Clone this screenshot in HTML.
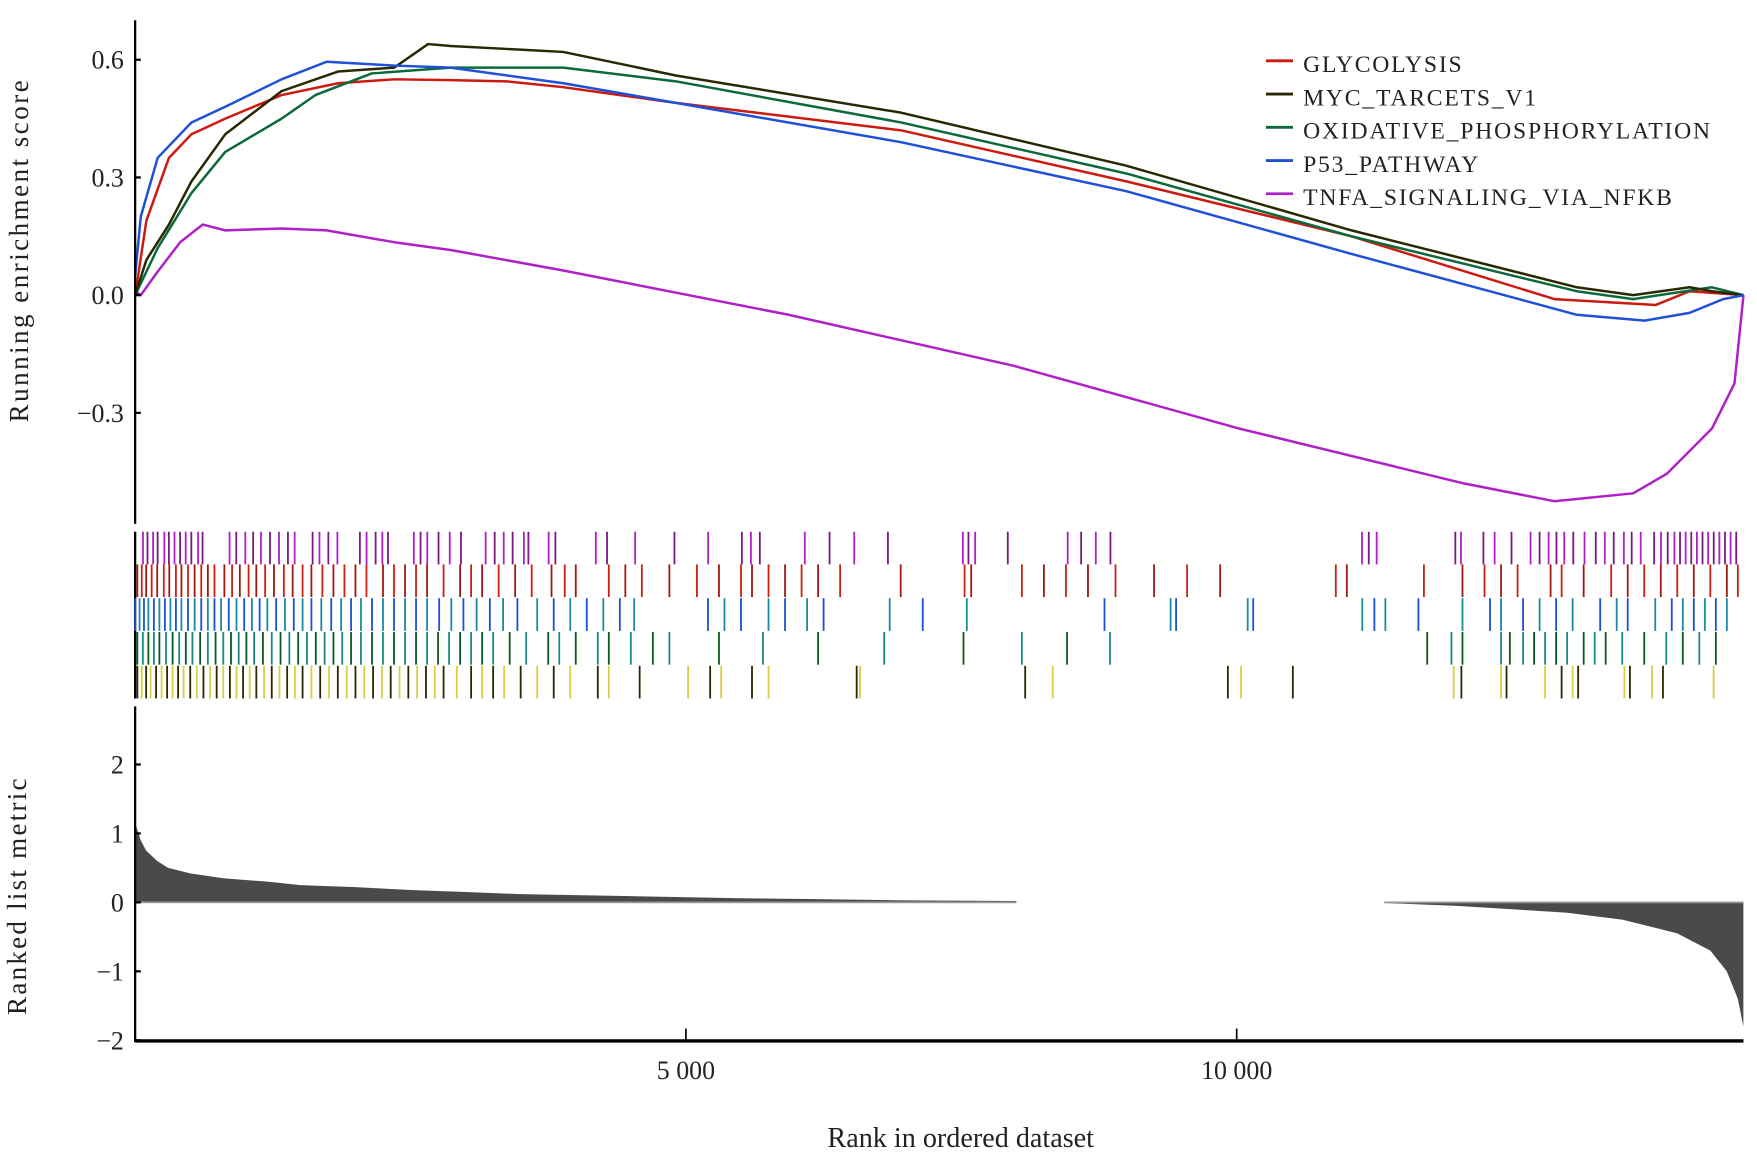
<!DOCTYPE html>
<html><head><meta charset="utf-8"><style>
html,body{margin:0;padding:0;background:#fff;}
svg{display:block;font-family:"Liberation Serif",serif;}
</style></head><body>
<svg id="chart" width="1757" height="1175" viewBox="0 0 1560 1043" preserveAspectRatio="none" xmlns="http://www.w3.org/2000/svg"></svg>
<script>
const seriesNames=["GLYCOLYSIS","MYC_TARCETS_V1","OXIDATIVE_PHOSPHORYLATION","P53_PATHWAY","TNFA_SIGNALING_VIA_NFKB"];
const seriesColors=["#cc1a10","#2a2800","#0b6a3a","#1f50d8","#b020c8"];
const glyRanks=[0,102,307,511,818,1329,1841,2352,2863,3374,3886,4908,6953,8998,11043,12884,13804,14111,14601];
const glyVals=[0,0.19,0.35,0.41,0.45,0.51,0.54,0.55,0.548,0.545,0.53,0.49,0.42,0.29,0.15,-0.01,-0.025,0.01,0];
const mycRanks=[0,102,307,511,818,1329,1841,2352,2659,2863,3886,4908,6953,8998,11043,13088,13600,14111,14315,14601];
const mycVals=[0,0.09,0.18,0.29,0.41,0.52,0.57,0.58,0.64,0.635,0.62,0.56,0.465,0.33,0.165,0.02,0,0.02,0.01,0];
const oxRanks=[0,204,511,818,1329,1636,2147,2863,3886,4908,6953,8998,11043,13088,13600,14315,14601];
const oxVals=[0,0.12,0.26,0.365,0.45,0.51,0.565,0.58,0.58,0.545,0.44,0.31,0.15,0.01,-0.01,0.02,0];
const p53Ranks=[0,51,204,511,818,1329,1738,2352,2863,3886,4908,6953,8998,11043,13088,13702,14111,14417,14601];
const p53Vals=[0.05,0.2,0.35,0.44,0.48,0.55,0.595,0.585,0.58,0.54,0.49,0.39,0.265,0.105,-0.05,-0.065,-0.045,-0.01,0];
const tnfRanks=[0,51,204,409,613,818,1329,1738,2352,2863,3886,5931,7976,10022,12066,12884,13600,13906,14315,14519,14601];
const tnfVals=[0.01,0,0.06,0.135,0.18,0.165,0.17,0.165,0.135,0.115,0.063,-0.05,-0.18,-0.34,-0.48,-0.525,-0.505,-0.455,-0.34,-0.225,0];
const hitsTnf=[71,112,163,204,265,306,357,408,459,510,571,612,857,918,1000,1071,1142,1224,1306,1387,1448,1611,1673,1754,1836,2040,2101,2183,2244,2295,2530,2591,2652,2754,2856,2958,3182,3264,3346,3427,3529,3570,3754,3815,4182,4284,4539,4896,5202,5508,5590,5671,6079,6304,6528,6834,7514,7565,7626,7922,8466,8588,8721,8854,11138,11199,11271,11985,12036,12240,12342,12495,12668,12750,12832,12903,12974,13056,13158,13260,13342,13423,13515,13586,13668,13790,13852,13913,13974,14025,14076,14127,14178,14229,14280,14331,14382,14433,14484,14535];
const hitsGly=[20,60,100,150,200,260,310,370,420,480,540,600,660,720,810,880,950,1030,1100,1180,1260,1350,1430,1520,1600,1700,1800,1900,2000,2100,2250,2350,2450,2550,2650,2800,2950,3050,3150,3300,3450,3600,3780,3900,4000,4300,4450,4600,4850,5100,5300,5500,5600,5750,5900,6050,6200,6400,6950,7530,7590,8050,8250,8450,8650,8900,9250,9550,9850,10900,11000,11700,12050,12250,12400,12550,12850,12950,13150,13400,13550,13700,13850,14000,14150,14300,14450,14550];
const hitsP53=[0,40,80,120,170,220,270,320,370,420,480,540,600,660,720,780,850,920,990,1060,1130,1200,1280,1360,1440,1520,1600,1690,1780,1870,1960,2050,2150,2250,2350,2450,2550,2650,2760,2870,2980,3100,3220,3340,3470,3650,3800,3950,4100,4250,4400,4530,5200,5350,5500,5750,5900,6100,6250,6850,7150,7550,8800,9400,9450,10100,10150,11140,11250,11350,11650,12050,12300,12400,12600,12750,12900,13050,13300,13450,13550,13800,13950,14050,14150,14250,14350,14450];
const hitsOx=[20,70,120,170,220,280,340,400,460,520,590,660,730,800,870,940,1010,1080,1160,1240,1320,1400,1480,1560,1640,1720,1800,1880,1960,2050,2150,2250,2350,2450,2550,2650,2750,2850,2950,3050,3150,3250,3400,3550,3750,3850,4000,4200,4300,4500,4700,4850,5300,5700,6200,6800,7520,8050,8460,8850,11730,11950,12050,12400,12480,12600,12700,12800,12900,13000,13150,13250,13350,13500,13700,13900,14050,14200,14350];
const hitsMyc=[20,60,100,140,190,240,290,340,390,440,500,560,620,680,740,800,860,920,980,1040,1100,1170,1240,1310,1380,1450,1520,1600,1680,1760,1840,1920,2000,2080,2160,2240,2320,2400,2480,2560,2640,2720,2800,2920,3050,3150,3250,3350,3500,3650,3800,3950,4200,4300,4580,5020,5220,5320,5600,5750,6550,6580,8080,8330,9920,10040,10510,11970,12040,12400,12450,12800,12950,13050,13100,13520,13570,13770,13870,14330];
const metricRanksA=[0,50,100,200,300,500,800,1200,1500,2000,2500,3000,3500,4500,5500,6000,7000,8000];
const metricValsA=[1.15,0.9,0.75,0.6,0.5,0.42,0.35,0.3,0.25,0.22,0.18,0.15,0.12,0.09,0.06,0.05,0.03,0.02];
const metricRanksB=[11340,12000,12500,13000,13500,14000,14300,14450,14550,14600];
const metricValsB=[-0.01,-0.05,-0.1,-0.15,-0.25,-0.45,-0.7,-1.0,-1.4,-1.8];
const esTicks=[0.6,0.3,0.0,-0.3];
const esTickLabels=["0.6","0.3","0.0","\u22120.3"];
const metricTicks=[2,1,0,-1,-2];
const metricTickLabels=["2","1","0","\u22121","\u22122"];
const xTicks=[5000,10000];
const xTickLabels=["5 000","10 000"];

const svg=document.getElementById('chart');
const NS="http://www.w3.org/2000/svg";
function mk(tag,attrs,parent){const e=document.createElementNS(NS,tag);for(const k in attrs)e.setAttribute(k,attrs[k]);(parent||svg).appendChild(e);return e;}
const X0=120,X1=1548,R1=14601;
const xs=r=>X0+(r/R1)*(X1-X0);
const yES=v=>262-v*348.3;
const yM=v=>801-v*61.2;

const esSets=[[glyRanks,glyVals],[mycRanks,mycVals],[oxRanks,oxVals],[p53Ranks,p53Vals],[tnfRanks,tnfVals]];
const esOrder=[4,0,2,1,3];
esOrder.forEach(i=>{
  const [rr,vv]=esSets[i];
  const p=mk('polyline',{points:rr.map((r,j)=>xs(r).toFixed(1)+','+yES(vv[j]).toFixed(1)).join(' '),fill:'none',stroke:seriesColors[i],'stroke-width':2.2,'stroke-linejoin':'round'});
  
  
});
let a=mk('line',{x1:X0,y1:18,x2:X0,y2:465,stroke:'#000','stroke-width':2});

esTicks.forEach((t,i)=>{
  mk('line',{x1:X0,y1:yES(t),x2:X0+5,y2:yES(t),stroke:'#000','stroke-width':2});
  const tx=mk('text',{x:X0-10,y:yES(t)+8,'text-anchor':'end','font-size':23,fill:'#222'});
  tx.textContent=esTickLabels[i];
  
});
let yt=mk('text',{x:0,y:0,transform:'translate(25,222) rotate(-90)','text-anchor':'middle','font-size':24,'letter-spacing':'2.2',fill:'#222'});
yt.textContent='Running enrichment score';

seriesNames.forEach((n,i)=>{
  const y=64+i*29.5;
  const g=mk('g',{});
  
  mk('line',{x1:1124,y1:y-10,x2:1148,y2:y-10,stroke:seriesColors[i],'stroke-width':2.5},g);
  const t=mk('text',{x:1157,y:y,'font-size':21,'letter-spacing':'1.6',fill:'#222'},g);t.textContent=n;
});

const hitSets=[hitsTnf,hitsGly,hitsP53,hitsOx,hitsMyc];
const hitCols=[["#b020c8","#7a1a80"],["#a01810","#cc2010"],["#1a4fd8","#1a8aa0"],["#0b5a20","#1a8a80"],["#2a2800","#d8d040"]];
const hitTops=[472,501,531,561,591];
let ax2=mk('line',{x1:X0,y1:472,x2:X0,y2:620,stroke:'#000','stroke-width':2});

hitSets.forEach((hs,k)=>{
  const g=mk('g',{});
  
  
  hs.forEach((r,j)=>{
    mk('line',{x1:xs(r),y1:hitTops[k],x2:xs(r),y2:hitTops[k]+29,stroke:hitCols[k][j%2],'stroke-width':1.6},g);
  });
});

function area(rr,vv){
  let pts=xs(rr[0]).toFixed(1)+','+yM(0).toFixed(1)+' ';
  pts+=rr.map((r,j)=>xs(r).toFixed(1)+','+yM(vv[j]).toFixed(1)).join(' ');
  pts+=' '+xs(rr[rr.length-1]).toFixed(1)+','+yM(0).toFixed(1);
  return pts;
}
let m1=mk('polygon',{points:area(metricRanksA,metricValsA),fill:'#4a4a4a'});

let m2=mk('polygon',{points:area(metricRanksB,metricValsB),fill:'#4a4a4a'});

mk('line',{x1:X0,y1:yM(0),x2:xs(8000),y2:yM(0),stroke:'#999','stroke-width':1.5});
mk('line',{x1:xs(11340),y1:yM(0),x2:X1,y2:yM(0),stroke:'#999','stroke-width':1.5});
let ay=mk('line',{x1:X0,y1:627,x2:X0,y2:925,stroke:'#000','stroke-width':2});

let axx=mk('line',{x1:X0,y1:924,x2:X1,y2:924,stroke:'#000','stroke-width':3});

metricTicks.forEach((t,i)=>{
  mk('line',{x1:X0,y1:yM(t),x2:X0+5,y2:yM(t),stroke:'#000','stroke-width':2});
  const tx=mk('text',{x:X0-10,y:yM(t)+8,'text-anchor':'end','font-size':23,fill:'#222'});
  tx.textContent=metricTickLabels[i];
  
});
xTicks.forEach((t,i)=>{
  mk('line',{x1:xs(t),y1:913,x2:xs(t),y2:924,stroke:'#000','stroke-width':1.5});
  const tx=mk('text',{x:xs(t),y:958,'text-anchor':'middle','font-size':23,fill:'#222'});
  tx.textContent=xTickLabels[i];
  
});
let yt2=mk('text',{x:0,y:0,transform:'translate(23,795) rotate(-90)','text-anchor':'middle','font-size':24,'letter-spacing':'2',fill:'#222'});
yt2.textContent='Ranked list metric';
let xt=mk('text',{x:853,y:1018,'text-anchor':'middle','font-size':25,fill:'#222'});
xt.textContent='Rank in ordered dataset';
</script>
</body></html>
